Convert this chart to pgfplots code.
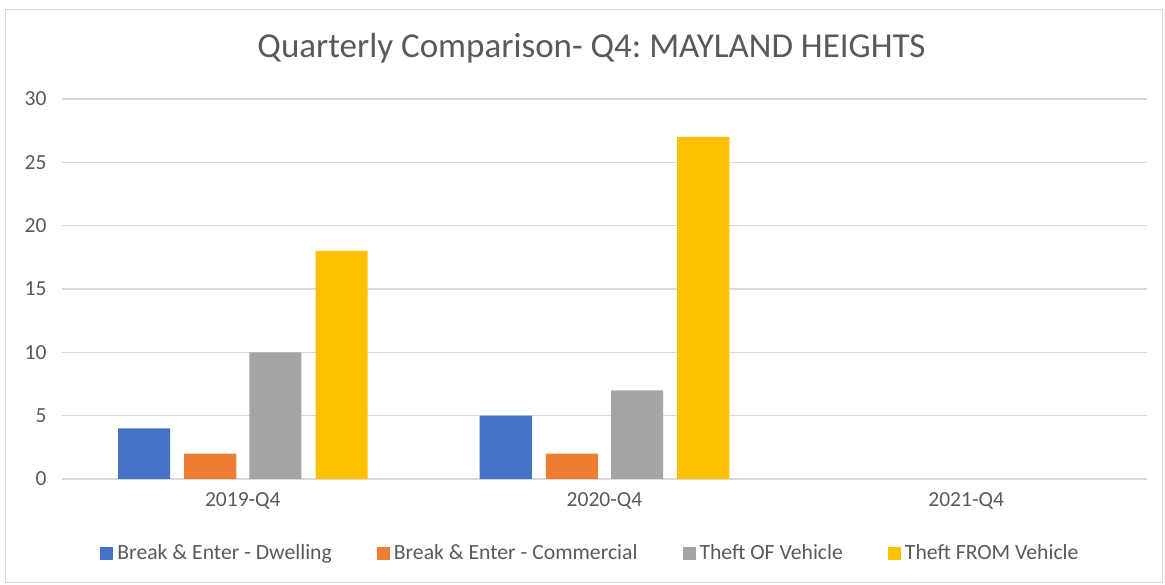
\documentclass[border=0pt]{standalone}
\usepackage{pgfplots}
\pgfplotsset{compat=1.18}
\usepackage{fontspec}
\setmainfont{Carlito}
\frenchspacing
\definecolor{cblue}{HTML}{4472C4}
\definecolor{corange}{HTML}{ED7D31}
\definecolor{cgray}{HTML}{A5A5A5}
\definecolor{cyellow}{HTML}{FFC000}
\definecolor{txt}{HTML}{595959}
\definecolor{gridc}{HTML}{D9D9D9}
\begin{document}
\begin{tikzpicture}[x=1pt,y=1pt]
\useasboundingbox (0,0) rectangle (1165,585);
\draw[color=gridc, line width=1pt] (5,2) rectangle (1162,575);
\node[text=txt, font=\fontsize{35}{42}\selectfont] at (591.5,537) {Quarterly Comparison- Q4: MAYLAND HEIGHTS};
\begin{axis}[
  at={(62pt,106pt)}, anchor=south west,
  scale only axis, width=1085pt, height=380pt,
  xmin=-0.5, xmax=2.5, ymin=0, ymax=30,
  ytick={0,5,...,30},
  xtick={0,1,2}, xticklabels={2019-Q4,2020-Q4,2021-Q4},
  axis line style={draw=none},
  ymajorgrids, grid style={color=gridc, line width=1.2pt},
  major tick length=0pt, tick style={draw=none},
  ybar, bar width=0.144,
  every tick label/.append style={text=txt, font=\fontsize{21.5}{26}\selectfont},
  /pgf/number format/assume math mode=true,
  yticklabel style={xshift=-12pt},
  xticklabel style={yshift=-10pt},
  legend columns=4,
  legend style={at={(0.488,-0.195)}, anchor=center, draw=none, fill=none,
    font=\fontsize{21.7}{26}\selectfont, text=txt,
    nodes={inner ysep=2.5pt, inner xsep=4pt},
    /tikz/every even column/.append style={column sep=41pt}},
  legend image code/.code={\fill[#1] (0pt,-6.5pt) rectangle (13pt,6.5pt);},
]
\addplot[fill=cblue, draw=none, bar shift=-0.273] coordinates {(0,4) (1,5)};
\addplot[fill=corange, draw=none, bar shift=-0.090] coordinates {(0,2) (1,2)};
\addplot[fill=cgray, draw=none, bar shift=0.090] coordinates {(0,10) (1,7)};
\addplot[fill=cyellow, draw=none, bar shift=0.273] coordinates {(0,18) (1,27)};
\legend{Break \& Enter - Dwelling, Break \& Enter - Commercial, Theft OF Vehicle, Theft FROM Vehicle}
\end{axis}
\end{tikzpicture}
\end{document}
